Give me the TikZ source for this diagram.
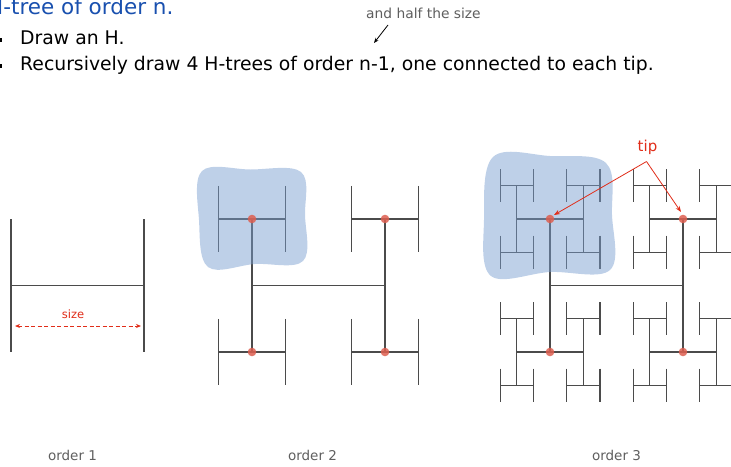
\documentclass[tikz,border=0pt]{standalone}
\usepackage{fontspec}
\setmainfont{DejaVu Sans}
\usetikzlibrary{arrows.meta}
\definecolor{hline}{RGB}{75,75,75}
\definecolor{titleblue}{RGB}{25,80,175}
\definecolor{tipred}{RGB}{225,45,25}
\definecolor{dotred}{RGB}{222,95,80}
\definecolor{blobblue}{RGB}{120,158,208}
\definecolor{labgray}{RGB}{95,95,95}
\tikzset{
  hl/.style={draw=hline, line width=1.25pt},
  tipdot/.style={fill=dotred, fill opacity=0.85, draw=none},
  blob/.style={fill=blobblue, fill opacity=0.48, draw=none},
  redarrow/.style={draw=tipred, line width=0.8pt, -{Stealth[length=6pt,width=4.5pt]}},
  ordlabel/.style={text=labgray, font=\fontsize{13.5}{15}\selectfont, anchor=base},
}
\newcommand\htr[4]{\begingroup
  \pgfmathsetmacro\hX{#1}\pgfmathsetmacro\hY{#2}\pgfmathsetmacro\hS{#3}%
  \pgfmathsetmacro\hL{\hX-\hS/2}\pgfmathsetmacro\hR{\hX+\hS/2}%
  \pgfmathsetmacro\hT{\hY-\hS/2}\pgfmathsetmacro\hB{\hY+\hS/2}%
  \pgfmathsetmacro\hN{\hS/2}%
  \draw[hl] (\hL,\hT) -- (\hL,\hB) (\hR,\hT) -- (\hR,\hB) (\hL,\hY) -- (\hR,\hY);
  \ifnum#4>1
    \htr{\hL}{\hT}{\hN}{\numexpr#4-1\relax}%
    \htr{\hR}{\hT}{\hN}{\numexpr#4-1\relax}%
    \htr{\hL}{\hB}{\hN}{\numexpr#4-1\relax}%
    \htr{\hR}{\hB}{\hN}{\numexpr#4-1\relax}%
  \fi
\endgroup}
\begin{document}
\begin{tikzpicture}[x=1pt,y=-1pt]
\useasboundingbox (0,0) rectangle (731,466);
\fill[white] (0,0) rectangle (731,466);
\clip (0,0) rectangle (731,466);

% title and bullets
\node[anchor=base west, inner sep=0, text=titleblue, font=\fontsize{21.5}{24}\selectfont] (title) at (-13,14) {H-tree of order n.};
\fill[black] (-3,37.5) rectangle (2,41.5);
\fill[black] (-3,63.5) rectangle (2,67.5);
\node[anchor=base west, inner sep=0, font=\fontsize{18.8}{23}\selectfont] (b1) at (20,44) {Draw an H.};
\node[anchor=base west, inner sep=0, font=\fontsize{18.8}{23}\selectfont] (b2) at (20,70) {Recursively draw 4 H-trees of order n-1, one connected to each tip.};
\node[anchor=base west, inner sep=0, text=labgray, font=\fontsize{13.8}{15}\selectfont] (half) at (366,18.5) {and half the size};
\coordinate (halfend) at (374,43);
\draw[draw=black, line width=0.8pt, -{Stealth[length=5pt,width=4pt]}] (388,25) -- (halfend);

% order 1
\htr{77.5}{285.5}{133}{1}
\coordinate (sl) at (15,326);
\coordinate (sr) at (141,326);
\draw[tipred, line width=0.9pt, dash pattern=on 4pt off 2.5pt, {Stealth[length=5pt,width=4pt]}-{Stealth[length=5pt,width=4pt]}] (sl) -- (sr);
\node[anchor=base, text=tipred, font=\fontsize{11.5}{13}\selectfont, inner sep=0] (size) at (73,318) {size};

% order 2
\htr{318.5}{285.5}{133}{2}
\draw[blob] plot[smooth cycle, tension=0.6] coordinates {(202,171) (250,169.5) (301,172) (305,215) (303,261) (255,264) (208,267) (199,220)};
\foreach \p in {(252,219),(385,219),(252,352),(385,352)} \fill[tipdot] \p circle (4.3);

% order 3
\htr{616.5}{285.5}{133}{3}
\draw[blob] plot[smooth cycle, tension=0.6] coordinates {(493,157) (550,156) (606,163) (612,215) (610,270) (550,272) (491,276) (484,220)};
\fill[tipdot] (550,219) circle (4.3) coordinate (t1);
\fill[tipdot] (683,219) circle (4.3) coordinate (t2);
\fill[tipdot] (550,352) circle (4.3);
\fill[tipdot] (683,352) circle (4.3);
\node[anchor=base, text=tipred, font=\fontsize{15}{17}\selectfont, inner sep=0] (tip) at (647.5,151) {tip};
\coordinate (apex) at (646.5,161.5);
\coordinate (e1) at (554,215);
\coordinate (e2) at (681,212);
\draw[redarrow] (apex) -- (e1);
\draw[redarrow] (apex) -- (e2);

% labels
\node[ordlabel] (o1) at (72.5,460) {order 1};
\node[ordlabel] (o2) at (312.5,460) {order 2};
\node[ordlabel] (o3) at (616.5,460) {order 3};
\end{tikzpicture}
\end{document}
